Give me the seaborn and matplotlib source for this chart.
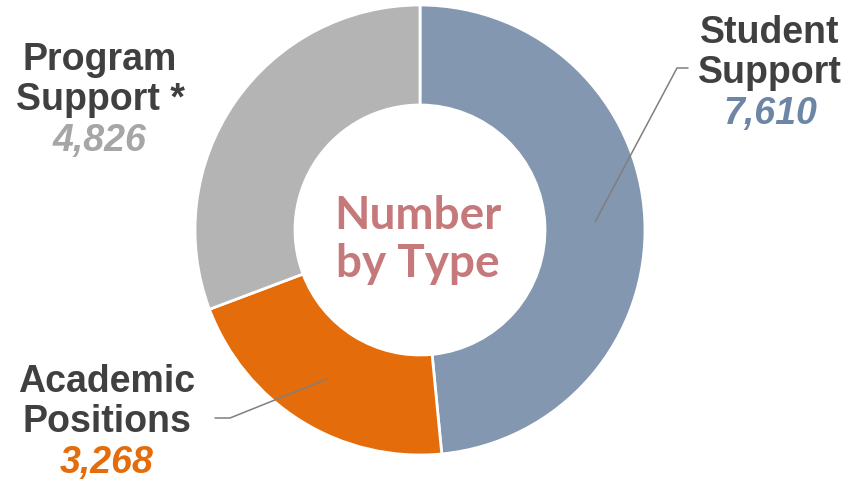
import numpy as np
import matplotlib.pyplot as plt
import seaborn as sns

# data
types = ['Student\nSupport', 'Academic\nPositions', 'Program\nSupport *']
counts = [7610, 3268, 4826]
colors = ['#8497B0', '#E46C0A', '#B4B4B4']
value_colors = ['#6D86A6', '#E46C0A', '#A6A6A6']

sns.set_theme(style='white')
plt.rcParams['font.family'] = ['Liberation Sans', 'DejaVu Sans']

W, H = 848, 484
cx, cy, R = 420, 230, 225  # pie centre / radius in pixels

fig = plt.figure(figsize=(W / 100, H / 100), dpi=100)
ax = fig.add_axes([0, 0, 1, 1])

wedges, _ = ax.pie(counts, colors=colors, startangle=90, counterclock=False,
                   radius=1, wedgeprops=dict(width=100 / R, edgecolor='white', linewidth=2))

ax.set_xlim(-cx / R, (W - cx) / R)
ax.set_ylim(-(H - cy) / R, cy / R)
ax.set_aspect('equal')
ax.axis('off')

def px(x, y):
    return (x - cx) / R, (cy - y) / R

# centre title (baseline of last line)
tx, ty = px(418, 277)
ax.text(tx, ty, 'Number\nby Type', ha='center', va='baseline', fontsize=33,
        fontweight='bold', family='Lato', color='#C5797B', linespacing=1.18)

# label positions (pixels: x centre, baseline of last label line)
label_pos = [(770, 83), (107, 432), (100, 110)]
elbows = [((677, 68), (688, 68)), ((230, 418), (215, 418)), None]

for i, w in enumerate(wedges):
    x, y = label_pos[i]
    tx, ty = px(x, y)
    ax.text(tx, ty, types[i], ha='center', va='baseline', fontsize=27,
            fontweight='bold', color='#404040', linespacing=1.16)
    vx, vy = px(x, y + 41)
    ax.text(vx, vy, f'{counts[i]:,}', ha='center', va='baseline', fontsize=27,
            fontweight='bold', style='italic', color=value_colors[i])
    if elbows[i] is not None:
        mid = np.deg2rad((w.theta1 + w.theta2) / 2)
        sx, sy = 0.78 * np.cos(mid), 0.78 * np.sin(mid)
        (ex, ey), (fx, fy) = [px(*p) for p in elbows[i]]
        ax.plot([sx, ex, fx], [sy, ey, fy], color='#7F7F7F', lw=1.1)

fig.savefig('out.png', dpi=100, facecolor='white')
